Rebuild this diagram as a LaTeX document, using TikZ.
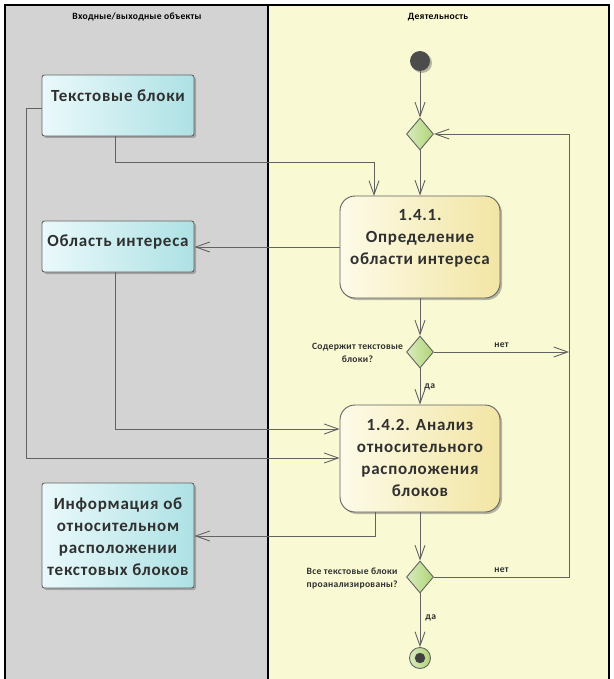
\documentclass[tikz,border=0pt]{standalone}
\usepackage{fontspec}
\setmainfont{Carlito}
\newfontfamily\bigfont[LetterSpace=4.4]{Carlito}
\newfontfamily\smallfont[LetterSpace=3]{Carlito}
\usetikzlibrary{shapes.geometric,arrows.meta,shadows}
\definecolor{lanegray}{RGB}{211,211,211}
\definecolor{laneyellow}{RGB}{249,249,211}
\definecolor{objL}{RGB}{234,249,251}
\definecolor{objR}{RGB}{174,225,228}
\definecolor{actL}{RGB}{253,251,232}
\definecolor{actR}{RGB}{242,229,164}
\definecolor{decL}{RGB}{216,235,190}
\definecolor{decR}{RGB}{176,212,118}
\definecolor{linec}{RGB}{98,98,98}
\definecolor{textc}{RGB}{48,48,48}
\tikzset{
  shad/.style={drop shadow={shadow xshift=2pt,shadow yshift=-2pt,opacity=0.45,fill=black!60}},
  objbox/.style={draw=linec,line width=0.9pt,rounded corners=2.5pt,left color=objL,right color=objR,shad},
  actbox/.style={draw=linec,line width=0.9pt,rounded corners=15pt,left color=actL,right color=actR,shad},
  dec/.style={diamond,draw=linec,line width=0.9pt,left color=decL,right color=decR,minimum width=27pt,minimum height=32pt,inner sep=0pt},
  bigtxt/.style={font=\bigfont\bfseries\fontsize{17}{22}\selectfont,text=textc,align=center,inner sep=0pt},
  smalltxt/.style={font=\smallfont\bfseries\fontsize{9.6}{13}\selectfont,text=textc,inner sep=0pt},
  hdr/.style={font=\smallfont\bfseries\fontsize{9.6}{11}\selectfont,text=black,inner sep=0pt},
  conn/.style={draw=linec,line width=0.9pt},
  arr/.style={conn,-{Straight Barb[length=14pt,width=10pt,line width=0.9pt]}}
}
\begin{document}
\begin{tikzpicture}[x=1pt,y=-1pt]
\useasboundingbox (0,0) rectangle (613,679);
\fill[white] (0,0) rectangle (613,679);
\fill[lanegray] (5,5) rectangle (268,679);
\fill[laneyellow] (268,5) rectangle (609,679);
\draw[line width=1.1pt] (5,679) -- (5,5) -- (609,5) -- (609,679);
\draw[line width=1.1pt] (268,5) -- (268,679);
\node[hdr] (h1) at (137,17) {Входные/выходные объекты};
\node[hdr] (h2) at (438,17) {Деятельность};
% object nodes
\node[objbox,minimum width=152pt,minimum height=61pt] (tb) at (118,105.5) {};
\node[bigtxt] (tbt) at (118,96) {Текстовые блоки};
\node[objbox,minimum width=152pt,minimum height=51pt] (oi) at (118,246.5) {};
\node[bigtxt] (oit) at (118,242) {Область интереса};
\node[objbox,minimum width=152pt,minimum height=105pt] (info) at (118,535.5) {};
\node[bigtxt] (infot) at (118,537) {Информация об\\относительном\\расположении\\текстовых блоков};
% actions
\node[actbox,minimum width=160pt,minimum height=102pt] (a1) at (420,247) {};
\node[bigtxt] (a1t) at (420,238) {1.4.1.\\Определение\\области интереса};
\node[actbox,minimum width=160pt,minimum height=107pt] (a2) at (420,458.5) {};
\node[bigtxt] (a2t) at (420,458) {1.4.2. Анализ\\относительного\\расположения\\блоков};
% control nodes
\node[circle,fill=black!70,minimum size=20pt,inner sep=0pt,shad] (init) at (420,61) {};
\node[dec] (d1) at (420,134) {};
\node[dec] (d2) at (420,352) {};
\node[dec] (d3) at (420,577) {};
\node[circle,draw=linec,line width=0.9pt,left color=decL,right color=decR,minimum size=21pt,inner sep=0pt] (fin) at (420,658) {};
\fill[black!75] (fin.center) circle (5.2pt);
% labels
\node[smalltxt,align=center] (l1) at (357.5,352.5) {Содержит текстовые\\блоки?};
\node[smalltxt,align=left,anchor=west] (l2) at (306.5,578) {Все текстовые блоки\\проанализированы?};
% connectors
\coordinate (c1) at (569,352);
\coordinate (c2) at (569,577);
\coordinate (c3) at (569,134);
\draw[arr] (init) -- (d1);
\draw[arr] (d1) -- (a1);
\draw[arr] (tb.south -| 115,0) -- (115,162) -- (374,162) -- (374,196);
\draw[arr] (a1.west |- 0,247) -- (oi.east |- 0,247);
\draw[arr] (a1) -- (d2);
\draw[arr] (d2.east) -- (c1) node[pos=0.5,above=4pt,smalltxt] {нет};
\draw[arr] (d2.south) -- (a2.north) node[pos=0.5,right=4pt,smalltxt] {да};
\draw[arr] (oi.south -| 115,0) -- (115,429) -- (a2.west |- 0,429);
\draw[arr] (tb.west |- 0,108) -- (26,108) -- (26,458) -- (a2.west |- 0,458);
\draw[arr] (a2.south -| 375,0) -- (375,536) -- (info.east |- 0,536);
\draw[arr] (a2) -- (d3);
\draw[arr] (d3.east) -- (c2) node[pos=0.5,above=4pt,smalltxt] {нет} -- (c3) -- (d1.east);
\draw[arr] (d3.south) -- (fin.north) node[pos=0.45,right=5pt,smalltxt] {да};
\end{tikzpicture}
\end{document}
